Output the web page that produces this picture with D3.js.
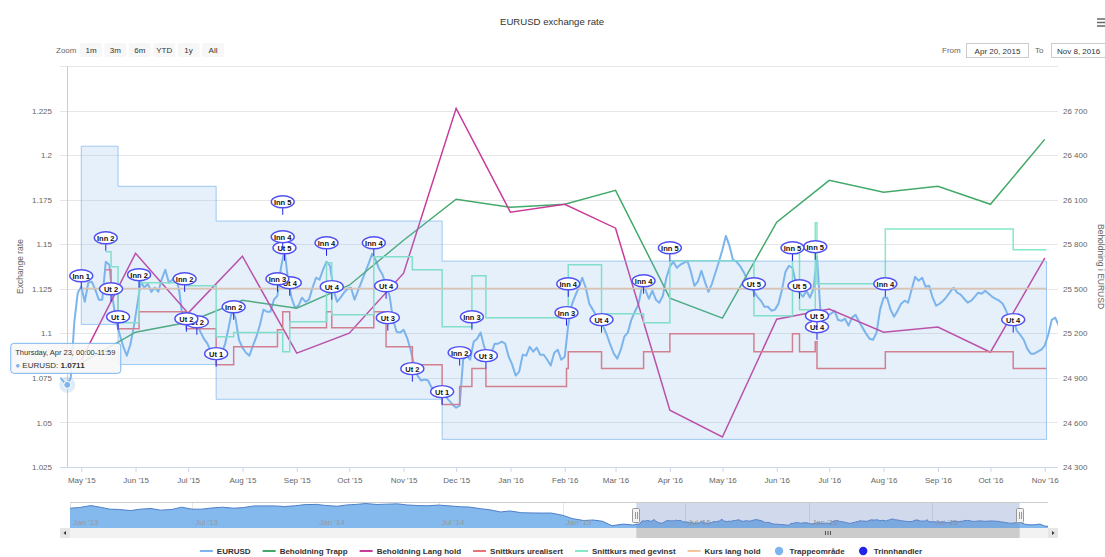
<!DOCTYPE html>
<html><head><meta charset="utf-8">
<script src="https://cdn.jsdelivr.net/npm/d3@7"></script>
<style>
body{margin:0;background:#fff;}
svg{font-family:"Liberation Sans",Arial,sans-serif;}
</style></head><body>
<svg id="c" width="1105" height="557"></svg>
<script>
// ---------------- DATA ----------------
const chartTitle = "EURUSD exchange rate";
const seriesNames = ["EURUSD","Beholdning Trapp","Beholdning Lang hold","Snittkurs urealisert","Snittkurs med gevinst","Kurs lang hold","Trappeområde","Trinnhandler"];
const seriesColors = ["#7cb5ec","#43a96a","#c93a9a","#e8747a","#84e9c4","#f4c6a0","#7cb5ec","#2424e8"];
const legendTypes = ["line","line","line","line","line","line","dot","dot"];

// EURUSD: one reading every 2 days from 2015-04-19
const rateStart = "2015-04-19";
const rateStepDays = 2;
const eurusd = [
1.0751,1.0729,1.0711,1.0751,1.1060,1.1228,1.1261,1.1177,1.1284,1.1290,
1.1245,1.1189,1.1189,1.1402,1.1385,1.1189,1.1065,1.0992,1.0925,1.0875,
1.0936,1.1037,1.1160,1.1290,1.1256,1.1278,1.1233,1.1256,1.1233,1.1306,
1.1357,1.1284,1.1301,1.1323,1.1233,1.1076,1.1104,1.1070,1.1054,1.1060,
1.1009,1.0970,1.0942,1.0897,1.0897,1.0897,1.0886,1.0936,1.1026,1.1127,
1.1088,1.0964,1.0920,1.0891,1.0875,1.0931,1.0981,1.1048,1.1133,1.1121,
1.1121,1.1189,1.1211,1.1368,1.1469,1.1301,1.1200,1.1144,1.1155,1.1200,
1.1177,1.1189,1.1256,1.1312,1.1301,1.1357,1.1402,1.1379,1.1245,1.1177,
1.1200,1.1228,1.1250,1.1256,1.1189,1.1239,1.1290,1.1340,1.1390,1.1446,
1.1413,1.1362,1.1329,1.1267,1.1211,1.1076,1.1009,1.1004,1.1020,1.0975,
1.0908,1.0819,1.0763,1.0735,1.0741,1.0735,1.0695,1.0684,1.0667,1.0673,
1.0645,1.0622,1.0600,1.0583,1.0594,1.0852,1.0875,1.0852,1.0953,1.0970,
1.1004,1.0925,1.0875,1.0886,1.0942,1.0942,1.0953,1.0942,1.0869,1.0824,
1.0763,1.0785,1.0880,1.0875,1.0925,1.0897,1.0920,1.0880,1.0880,1.0852,
1.0819,1.0891,1.0908,1.0852,1.0869,1.1048,1.1160,1.1211,1.1256,1.1312,
1.1256,1.1166,1.1133,1.1099,1.1070,1.1037,1.0992,1.0936,1.0886,1.0858,
1.0908,1.0981,1.1004,1.1076,1.1121,1.1160,1.1256,1.1245,1.1194,1.1239,
1.1189,1.1172,1.1211,1.1312,1.1374,1.1402,1.1368,1.1385,1.1396,1.1407,
1.1346,1.1267,1.1290,1.1351,1.1290,1.1233,1.1278,1.1340,1.1402,1.1469,
1.1547,1.1491,1.1413,1.1402,1.1379,1.1346,1.1306,1.1267,1.1233,1.1205,
1.1183,1.1149,1.1149,1.1127,1.1133,1.1166,1.1245,1.1346,1.1379,1.1368,
1.1278,1.1228,1.1205,1.1239,1.1200,1.1250,1.1430,1.1116,1.1116,1.1099,
1.1110,1.1127,1.1076,1.1070,1.1082,1.1043,1.1088,1.1104,1.1065,1.1032,
1.0998,1.0970,1.0964,1.1004,1.1133,1.1200,1.1200,1.1133,1.1093,1.1127,
1.1166,1.1183,1.1172,1.1245,1.1317,1.1295,1.1312,1.1261,1.1267,1.1200,
1.1155,1.1166,1.1183,1.1205,1.1233,1.1256,1.1228,1.1217,1.1194,1.1172,
1.1183,1.1205,1.1228,1.1222,1.1239,1.1222,1.1205,1.1194,1.1183,1.1166,
1.1127,1.1065,1.1088,1.1015,1.0992,1.0964,1.0914,1.0886,1.0886,1.0897,
1.0908,1.0931,1.0992,1.1076,1.1088,1.1043
];

// navigator history before / after the main window
const navHistDates = ["2013-01-01","2013-01-15","2013-02-01","2013-02-15","2013-03-01","2013-03-15","2013-04-01","2013-04-15","2013-05-01","2013-05-15","2013-06-01","2013-06-15","2013-07-01","2013-07-15","2013-08-01","2013-08-15","2013-09-01","2013-09-15","2013-10-01","2013-10-15","2013-11-01","2013-11-15","2013-12-01","2013-12-15","2014-01-01","2014-01-15","2014-02-01","2014-02-15","2014-03-01","2014-03-15","2014-04-01","2014-04-15","2014-05-01","2014-05-15","2014-06-01","2014-06-15","2014-07-01","2014-07-15","2014-08-01","2014-08-15","2014-09-01","2014-09-15","2014-10-01","2014-10-15","2014-11-01","2014-11-15","2014-12-01","2014-12-15","2015-01-01","2015-01-15","2015-02-01","2015-02-15","2015-03-01","2015-03-15","2015-04-01","2015-04-15"];
const navHistValues = [1.320,1.330,1.360,1.335,1.305,1.300,1.283,1.305,1.315,1.290,1.300,1.335,1.305,1.305,1.325,1.335,1.320,1.330,1.355,1.355,1.355,1.345,1.358,1.375,1.378,1.362,1.350,1.370,1.378,1.392,1.377,1.382,1.387,1.370,1.360,1.357,1.368,1.357,1.343,1.338,1.313,1.295,1.262,1.277,1.250,1.247,1.245,1.245,1.210,1.160,1.130,1.138,1.118,1.050,1.075,1.060];
const navTailDates = ["2016-11-15","2016-11-22","2016-12-01","2016-12-08","2016-12-15","2016-12-20"];
const navTailValues = [1.075,1.063,1.065,1.075,1.045,1.040];

// Holdings (right axis), monthly
const holdDates = ["2015-05-01","2015-06-01","2015-07-01","2015-08-01","2015-09-01","2015-10-01","2015-11-01","2015-12-01","2016-01-01","2016-02-01","2016-03-01","2016-04-01","2016-05-01","2016-06-01","2016-07-01","2016-08-01","2016-09-01","2016-10-01","2016-11-01"];
const beholdningTrapp = [25000,25208,25275,25423,25369,25524,25827,26103,26049,26069,26163,25437,25302,25948,26230,26150,26190,26069,26506];
const beholdningLang  = [25020,25739,25336,25719,25067,25201,25605,26715,26015,26069,25908,24683,24502,25295,25363,25208,25242,25073,25706];

// Average rate, unrealised (step)
const urealDates = ["2015-05-15","2015-05-18","2015-05-22","2015-06-03","2015-06-30","2015-07-17","2015-07-27","2015-08-21","2015-08-24","2015-08-28","2015-09-18","2015-09-21","2015-10-15","2015-10-22","2015-11-06","2015-11-23","2015-12-03","2015-12-10","2015-12-18","2016-02-02","2016-02-03","2016-02-22","2016-03-17","2016-04-01","2016-05-19","2016-06-10","2016-06-14","2016-06-23","2016-06-24","2016-08-02","2016-10-14","2016-11-02"];
const snittUrealisert = [1.1357,1.1261,1.1026,1.1121,1.1026,1.0824,1.0925,1.1020,1.1121,1.1032,1.1121,1.1032,1.1121,1.0925,1.0824,1.0600,1.0701,1.0802,1.0701,1.0802,1.0897,1.0802,1.0897,1.0998,1.0897,1.0998,1.0897,1.0953,1.0802,1.0897,1.0802,1.0802];

// Average rate with gain (step)
const gevinstDates = ["2015-05-15","2015-05-18","2015-05-22","2015-06-03","2015-06-30","2015-07-17","2015-07-27","2015-08-24","2015-08-28","2015-09-18","2015-09-21","2015-10-15","2015-11-06","2015-11-23","2015-12-10","2015-12-18","2016-02-03","2016-02-22","2016-03-17","2016-04-01","2016-05-19","2016-06-10","2016-06-14","2016-06-23","2016-06-24","2016-08-02","2016-10-14","2016-11-02"];
const snittGevinst = [1.1458,1.1373,1.1060,1.1284,1.1267,1.0981,1.1004,1.0897,1.1065,1.1396,1.1104,1.1430,1.1357,1.1037,1.1323,1.1088,1.1385,1.1110,1.1060,1.1407,1.1099,1.1446,1.1133,1.1620,1.1278,1.1586,1.1469,1.1469];

// Long-hold rate
const kursLangDates = ["2015-05-01","2016-11-02"];
const kursLangHold = [1.1252,1.1252];

// Stair zone (area range, step)
const bandDates = ["2015-05-01","2015-05-22","2015-07-17","2015-11-23","2016-11-02"];
const bandLow  = [1.1050,1.0825,1.0630,1.0405,1.0405];
const bandHigh = [1.2050,1.1825,1.1630,1.1405,1.1405];

// Step trades (flags)
const flagDates = ["2015-05-01","2015-05-15","2015-05-18","2015-05-22","2015-06-03","2015-06-29","2015-06-30","2015-07-06","2015-07-17","2015-07-27","2015-08-21","2015-08-24","2015-08-25","2015-08-24","2015-08-28","2015-09-18","2015-09-21","2015-10-15","2015-10-22","2015-10-23","2015-11-06","2015-11-23","2015-12-03","2015-12-10","2015-12-18","2016-02-02","2016-02-03","2016-02-22","2016-03-17","2016-04-01","2016-05-19","2016-06-10","2016-06-14","2016-06-23","2016-06-24","2016-06-24","2016-08-02","2016-10-14"];
const flagTitles = ["Inn 1","Inn 2","Ut 2","Ut 1","Inn 2","Inn 2","Ut 2","Ut 2","Ut 1","Inn 2","Inn 3","Inn 4","Ut 5","Inn 5","Ut 4","Inn 4","Ut 4","Inn 4","Ut 4","Ut 3","Ut 2","Ut 1","Inn 2","Inn 3","Ut 3","Inn 3","Inn 4","Ut 4","Inn 4","Inn 5","Ut 5","Inn 5","Ut 5","Inn 5","Ut 5","Ut 4","Inn 4","Ut 4"];
const flagRates = [1.1250,1.1463,1.1177,1.1020,1.1256,1.1233,1.1009,1.0992,1.0813,1.1076,1.1233,1.1469,1.1407,1.1665,1.1211,1.1435,1.1189,1.1435,1.1194,1.1015,1.0729,1.0600,1.0819,1.1020,1.0802,1.1043,1.1205,1.1004,1.1222,1.1407,1.1205,1.1407,1.1194,1.1413,1.1026,1.0964,1.1205,1.1004];

// Axes
const leftTicks = [1.025,1.05,1.075,1.1,1.125,1.15,1.175,1.2,1.225];
const leftGrid = [1.025,1.05,1.075,1.1,1.125,1.15,1.175,1.2,1.225,1.25];
const rightTicks = [24300,24600,24900,25200,25500,25800,26100,26400,26700];
const monthTicks = ["2015-05-01","2015-06-01","2015-07-01","2015-08-01","2015-09-01","2015-10-01","2015-11-01","2015-12-01","2016-01-01","2016-02-01","2016-03-01","2016-04-01","2016-05-01","2016-06-01","2016-07-01","2016-08-01","2016-09-01","2016-10-01","2016-11-01"];
const navTicks = ["2013-01-01","2013-07-01","2014-01-01","2014-07-01","2015-01-01","2015-07-01","2016-01-01","2016-07-01"];
const viewRange = ["2015-04-20","2016-11-08"];
const navRange = ["2013-01-01","2016-12-20"];
const zoomButtons = ["1m","3m","6m","YTD","1y","All"];
const tooltipDate = "2015-04-23";
const tooltipTime = "00:00-11:59";

// ---------------- DRAW ----------------
const parse = d3.utcParse("%Y-%m-%d");
const DAY = 864e5;
const svg = d3.select("#c");
const P = {l:60, r:1058, t:66, b:467};

const x = d3.scaleUtc().domain(viewRange.map(parse)).range([62,1057]);
const yL = d3.scaleLinear().domain([1.025,1.25]).range([P.b,P.t]);
const yR = d3.scaleLinear().domain([24300,27000]).range([P.b,P.t]);

const rate = eurusd.map((v,i)=>({d:new Date(parse(rateStart).getTime()+i*rateStepDays*DAY), v}));
const zip = (ds,vs)=>ds.map((d,i)=>({d:parse(d), v:vs[i]}));

svg.append("defs").append("clipPath").attr("id","plotclip")
  .append("rect").attr("x",P.l).attr("y",P.t-1).attr("width",P.r-P.l).attr("height",P.b-P.t+1);

// title
svg.append("text").attr("x",552).attr("y",25).attr("text-anchor","middle")
  .attr("font-size",9.6).attr("fill","#333").text(chartTitle);

// hamburger
[19,22.5,26].forEach(yy=>svg.append("line").attr("x1",1097).attr("x2",1105).attr("y1",yy).attr("y2",yy).attr("stroke","#666").attr("stroke-width",1.5));

// zoom buttons
svg.append("text").attr("x",56).attr("y",53).attr("font-size",8).attr("fill","#666").text("Zoom");
zoomButtons.forEach((b,i)=>{
  const bx = 80 + i*24.4;
  svg.append("rect").attr("x",bx).attr("y",43).attr("width",22).attr("height",14).attr("rx",2).attr("fill","#f7f7f7");
  svg.append("text").attr("x",bx+11).attr("y",53).attr("text-anchor","middle").attr("font-size",8).attr("fill","#333").text(b);
});
// date inputs
const dfmt = d3.utcFormat("%b %-d, %Y");
svg.append("text").attr("x",942).attr("y",53).attr("font-size",8).attr("fill","#666").text("From");
svg.append("rect").attr("x",966.5).attr("y",43.5).attr("width",62).attr("height",14).attr("fill","#fff").attr("stroke","#ccc");
svg.append("text").attr("x",997.5).attr("y",53.5).attr("text-anchor","middle").attr("font-size",8).attr("fill","#333").text(dfmt(parse(viewRange[0])));
svg.append("text").attr("x",1035).attr("y",53).attr("font-size",8).attr("fill","#666").text("To");
svg.append("rect").attr("x",1051.5).attr("y",43.5).attr("width",62).attr("height",14).attr("fill","#fff").attr("stroke","#ccc");
svg.append("text").attr("x",1057).attr("y",53.5).attr("font-size",8).attr("fill","#333").text(dfmt(parse(viewRange[1])));

// grid
svg.append("g").selectAll("line").data(leftGrid).join("line")
  .attr("x1",P.l).attr("x2",P.r).attr("y1",d=>Math.round(yL(d))+0.5).attr("y2",d=>Math.round(yL(d))+0.5)
  .attr("stroke","#e6e6e6");

// left axis labels
const gl = svg.append("g").attr("transform",`translate(${P.l},0)`)
  .call(d3.axisLeft(yL).tickValues(leftTicks).tickSize(0).tickPadding(8).tickFormat(d=>String(+d.toFixed(3))));
gl.select(".domain").remove();
gl.selectAll("text").attr("font-size",8).attr("fill","#666").attr("font-family",null);

// right axis labels
const loc = d3.formatLocale({decimal:".",thousands:" ",grouping:[3],currency:["",""]});
const gr = svg.append("g").attr("transform",`translate(${P.r},0)`)
  .call(d3.axisRight(yR).tickValues(rightTicks).tickSize(0).tickPadding(5).tickFormat(loc.format(",")));
gr.select(".domain").remove();
gr.selectAll("text").attr("font-size",8).attr("fill","#666").attr("font-family",null);

// axis titles
svg.append("text").attr("transform",`translate(23,${(P.t+P.b)/2}) rotate(-90)`).attr("text-anchor","middle")
  .attr("font-size",8.5).attr("fill","#666").text("Exchange rate");
svg.append("text").attr("transform",`translate(1098,${(P.t+P.b)/2}) rotate(90)`).attr("text-anchor","middle")
  .attr("font-size",8.5).attr("fill","#666").text("Beholdning i EURUSD");

// x axis
const gx = svg.append("g").attr("transform",`translate(0,${P.b})`)
  .call(d3.axisBottom(x).tickValues(monthTicks.map(parse)).tickSize(5).tickPadding(5).tickFormat(d3.utcFormat("%b '%y")));
gx.select(".domain").attr("stroke","#ccd6eb").attr("d",`M${P.l},0.5H${P.r}`);
gx.selectAll(".tick line").attr("stroke","#ccd6eb");
gx.selectAll("text").attr("font-size",8).attr("fill","#666").attr("font-family",null);

// crosshair
const tipD = parse(tooltipDate);
const tipPt = rate.find(p=>+p.d===+tipD);
svg.append("line").attr("x1",Math.round(x(tipD))+0.5).attr("x2",Math.round(x(tipD))+0.5).attr("y1",P.t).attr("y2",P.b).attr("stroke","#cccccc");

// series
const plotG = svg.append("g").attr("clip-path","url(#plotclip)");
const lineL = d3.line().x(d=>x(d.d)).y(d=>yL(d.v));
const lineR = d3.line().x(d=>x(d.d)).y(d=>yR(d.v));
const stepL = d3.line().curve(d3.curveStepAfter).x(d=>x(d.d)).y(d=>yL(d.v));

plotG.append("path").attr("d",lineL(rate)).attr("fill","none").attr("stroke",seriesColors[0]).attr("stroke-width",2).attr("stroke-linejoin","round");
plotG.append("path").attr("d",lineR(zip(holdDates,beholdningTrapp))).attr("fill","none").attr("stroke",seriesColors[1]).attr("stroke-width",1.5);
plotG.append("path").attr("d",lineR(zip(holdDates,beholdningLang))).attr("fill","none").attr("stroke",seriesColors[2]).attr("stroke-width",1.5);
plotG.append("path").attr("d",stepL(zip(urealDates,snittUrealisert))).attr("fill","none").attr("stroke",seriesColors[3]).attr("stroke-width",1.5);
plotG.append("path").attr("d",stepL(zip(gevinstDates,snittGevinst))).attr("fill","none").attr("stroke",seriesColors[4]).attr("stroke-width",1.5);
plotG.append("path").attr("d",lineL(zip(kursLangDates,kursLangHold))).attr("fill","none").attr("stroke",seriesColors[5]).attr("stroke-width",1.5);

const band = bandDates.map((d,i)=>({d:parse(d), lo:bandLow[i], hi:bandHigh[i]}));
const bandArea = d3.area().curve(d3.curveStepAfter).x(d=>x(d.d)).y0(d=>yL(d.lo)).y1(d=>yL(d.hi));
plotG.append("path").attr("d",bandArea(band)).attr("fill",seriesColors[6]).attr("fill-opacity",0.2)
  .attr("stroke",seriesColors[6]).attr("stroke-opacity",0.7).attr("stroke-width",1);

// flags (drawn last-to-first like the original)
const flagsG = svg.append("g");
const flags = flagDates.map((d,i)=>({d:parse(d), t:flagTitles[i], v:flagRates[i]}));
for (let i=flags.length-1;i>=0;i--){
  const f = flags[i];
  const ax = x(f.d), ay = yL(f.v);
  const cy = ay-13;
  const g = flagsG.append("g");
  g.append("line").attr("x1",ax).attr("x2",ax).attr("y1",cy+5).attr("y2",ay).attr("stroke",seriesColors[7]).attr("stroke-width",1);
  g.append("ellipse").attr("cx",ax).attr("cy",cy).attr("rx",11.5).attr("ry",6).attr("fill","#fff")
    .attr("stroke","#5050f2").attr("stroke-width",1.4);
  g.append("text").attr("x",ax).attr("y",cy+3).attr("text-anchor","middle").attr("font-size",7.5).attr("font-weight","bold").attr("fill","#111").text(f.t);
}

// hover marker + tooltip
const mx = x(tipPt.d), my = yL(tipPt.v);
svg.append("circle").attr("cx",mx).attr("cy",my).attr("r",8).attr("fill",seriesColors[0]).attr("fill-opacity",0.25);
svg.append("circle").attr("cx",mx).attr("cy",my).attr("r",3.5).attr("fill",seriesColors[0]).attr("stroke","#fff").attr("stroke-width",1);
const tg = svg.append("g").attr("transform",`translate(${mx-57},${my-42})`);
tg.append("rect").attr("x",0.5).attr("y",0.5).attr("width",110).attr("height",30).attr("rx",3)
  .attr("fill","rgba(247,247,247,0.88)").attr("stroke",seriesColors[0]);
tg.append("text").attr("x",5).attr("y",12).attr("font-size",7.5).attr("fill","#333")
  .text(d3.utcFormat("%A, %b %d")(tipD)+", "+tooltipTime);
const t2 = tg.append("text").attr("x",5).attr("y",25).attr("font-size",8).attr("fill","#333");
t2.append("tspan").attr("fill",seriesColors[0]).text("● ");
t2.append("tspan").text(seriesNames[0]+": ");
t2.append("tspan").attr("font-weight","bold").text(tipPt.v.toFixed(4));

// ---------------- NAVIGATOR ----------------
const nx = d3.scaleUtc().domain(navRange.map(parse)).range([70,1048]);
const navData = zip(navHistDates,navHistValues).concat(rate.filter(p=>p.d>=parse("2015-04-20"))).concat(zip(navTailDates,navTailValues));
const ny = d3.scaleLinear().domain([1.03,1.40]).range([527,503]);
const NT=502, NB=528;
svg.append("g").selectAll("line").data(navTicks.map(parse)).join("line")
  .attr("x1",d=>Math.round(nx(d))+0.5).attr("x2",d=>Math.round(nx(d))+0.5).attr("y1",NT).attr("y2",NB).attr("stroke","#e6e6e6");
svg.append("path").attr("d",d3.area().x(d=>nx(d.d)).y0(NB).y1(d=>ny(d.v))(navData))
  .attr("fill","#7cb5ec").attr("fill-opacity",0.95);
svg.append("path").attr("d",d3.line().x(d=>nx(d.d)).y(d=>ny(d.v))(navData))
  .attr("fill","none").attr("stroke","#4f7fc8").attr("stroke-width",1);
svg.append("g").selectAll("text").data(navTicks.map(parse)).join("text")
  .attr("x",d=>nx(d)+3).attr("y",525).attr("font-size",8).attr("fill","#999").text(d3.utcFormat("%b '%y"));
const h0 = nx(parse(viewRange[0])), h1 = nx(parse(viewRange[1]));
svg.append("rect").attr("x",h0).attr("y",NT).attr("width",h1-h0).attr("height",NB-NT).attr("fill","rgba(102,133,194,0.3)");
svg.append("line").attr("x1",70).attr("x2",1048).attr("y1",NT+0.5).attr("y2",NT+0.5).attr("stroke","#cccccc");
[h0,h1].forEach(hx=>{
  svg.append("rect").attr("x",Math.round(hx)-3.5).attr("y",508.5).attr("width",7).attr("height",14).attr("rx",1)
    .attr("fill","#f2f2f2").attr("stroke","#999");
  [-1,1].forEach(o=>svg.append("line").attr("x1",Math.round(hx)+o+0.5).attr("x2",Math.round(hx)+o+0.5).attr("y1",512).attr("y2",519).attr("stroke","#999"));
});
// scrollbar
const SY=528, SH=10;
svg.append("rect").attr("x",P.l).attr("y",SY).attr("width",P.r-P.l).attr("height",SH).attr("fill","#f2f2f2");
svg.append("rect").attr("x",h0).attr("y",SY).attr("width",h1-h0).attr("height",SH).attr("fill","#cccccc");
[-2.5,0,2.5].forEach(o=>svg.append("line").attr("x1",(h0+h1)/2+o).attr("x2",(h0+h1)/2+o).attr("y1",SY+3).attr("y2",SY+7).attr("stroke","#333").attr("stroke-width",0.8));
svg.append("rect").attr("x",P.l).attr("y",SY).attr("width",10).attr("height",SH).attr("fill","#e6e6e6");
svg.append("rect").attr("x",P.r-10).attr("y",SY).attr("width",10).attr("height",SH).attr("fill","#e6e6e6");
svg.append("path").attr("d",`M${P.l+6},${SY+3}L${P.l+6},${SY+7}L${P.l+3.5},${SY+5}Z`).attr("fill","#333");
svg.append("path").attr("d",`M${P.r-6},${SY+3}L${P.r-6},${SY+7}L${P.r-3.5},${SY+5}Z`).attr("fill","#333");

// ---------------- LEGEND ----------------
const lg = svg.append("g");
let cx = 0;
seriesNames.forEach((n,i)=>{
  const g = lg.append("g").attr("transform",`translate(${cx},0)`);
  if (legendTypes[i]==="line") g.append("line").attr("x1",0).attr("x2",13).attr("y1",0).attr("y2",0).attr("stroke",seriesColors[i]).attr("stroke-width",2);
  else g.append("circle").attr("cx",6.5).attr("cy",0).attr("r",4.2).attr("fill",seriesColors[i]);
  const t = g.append("text").attr("x",17).attr("y",3).attr("font-size",8).attr("font-weight","bold").attr("fill","#333").text(n);
  cx += 17 + t.node().getComputedTextLength() + 12;
});
lg.attr("transform",`translate(${561-(cx-12)/2},551)`);
</script>
</body></html>
